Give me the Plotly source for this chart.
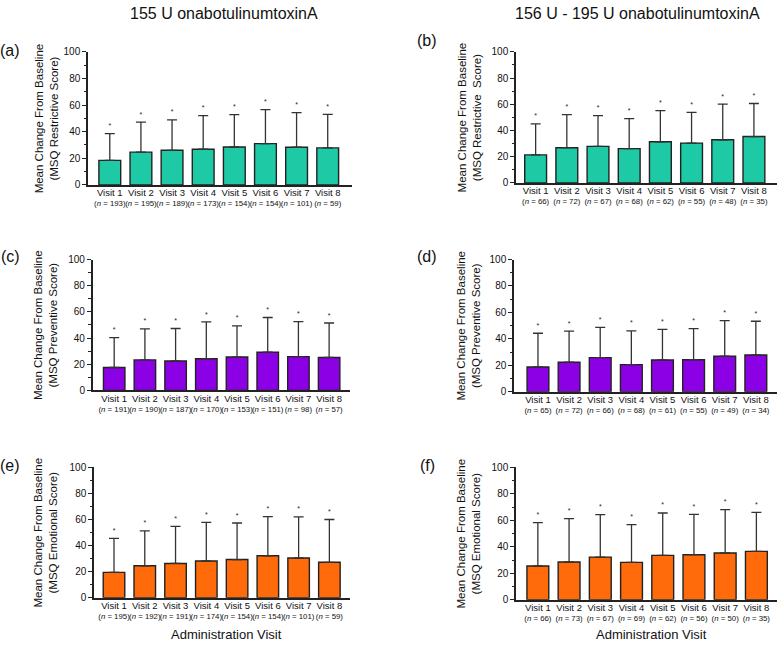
import plotly.graph_objects as go

W, H = 778, 646
FONT = "Liberation Sans, Arial, sans-serif"

visits = [f"Visit {i}" for i in range(1, 9)]

# Panel data: mean change and upper SD
a_mean = [18.4, 24.6, 26.0, 26.8, 28.5, 31.0, 28.3, 27.8]
a_sd = [20.2, 22.6, 22.9, 25.3, 24.3, 25.5, 26.0, 25.2]
a_n = [193, 195, 189, 173, 154, 154, 101, 59]

b_mean = [21.4, 26.9, 27.9, 26.2, 31.4, 30.4, 32.9, 35.4]
b_sd = [23.7, 25.2, 23.5, 22.9, 23.7, 23.5, 27.2, 25.2]
b_n = [66, 72, 67, 68, 62, 55, 48, 35]

c_mean = [17.5, 23.3, 22.5, 24.2, 25.5, 29.2, 25.8, 25.2]
c_sd = [22.8, 23.7, 24.8, 28.1, 23.8, 26.5, 26.7, 26.3]
c_n = [191, 190, 187, 170, 153, 151, 98, 57]

d_mean = [18.7, 22.3, 25.8, 20.5, 24.0, 24.2, 26.8, 27.8]
d_sd = [25.5, 23.5, 22.9, 25.5, 23.2, 23.5, 27.0, 25.5]
d_n = [65, 72, 66, 68, 61, 55, 49, 34]

e_mean = [19.5, 24.5, 26.3, 28.2, 29.3, 32.2, 30.5, 27.2]
e_sd = [26.0, 26.8, 28.4, 29.6, 28.0, 30.0, 31.5, 32.8]
e_n = [195, 192, 191, 174, 154, 154, 101, 59]

f_mean = [25.5, 28.5, 32.2, 28.2, 33.5, 34.0, 35.3, 36.5]
f_sd = [32.7, 32.7, 32.0, 28.5, 32.0, 30.5, 32.7, 29.5]
f_n = [66, 73, 67, 69, 62, 56, 50, 35]

col_titles = ["155 U onabotulinumtoxinA", "156 U - 195 U onabotulinumtoxinA"]
y_titles = ["Mean Change From Baseline<br>(MSQ Restrictive Score)",
            "Mean Change From Baseline<br>(MSQ Restrictive  Score)",
            "Mean Change From Baseline<br>(MSQ Preventive Score)",
            "Mean Change From Baseline<br>(MSQ Preventive Score)",
            "Mean Change From Baseline<br>(MSQ Emotional Score)",
            "Mean Change From Baseline<br>(MSQ Emotional Score)"]
letters = ["(a)", "(b)", "(c)", "(d)", "(e)", "(f)"]
xlabel = "Administration Visit"

TEAL, PURPLE, ORANGE = "#1ec9a6", "#8c00e6", "#ff6b0a"

# layout per panel (pixels)
panels = [
    dict(m=a_mean, s=a_sd, n=a_n, c=TEAL, px=(88, 352), py=(46.7, 182.3), xr=(-0.70, 7.78), tx=46, lx=10, ly=45),
    dict(m=b_mean, s=b_sd, n=b_n, c=TEAL, px=(516, 777), py=(46.7, 180.3), xr=(-0.63, 7.74), tx=469, lx=427, ly=35),
    dict(m=c_mean, s=c_sd, n=c_n, c=PURPLE, px=(92.7, 350), py=(258.3, 391.7), xr=(-0.70, 7.68), tx=46, lx=10, ly=255),
    dict(m=d_mean, s=d_sd, n=d_n, c=PURPLE, px=(514, 777), py=(258.3, 393), xr=(-0.77, 7.68), tx=469, lx=427, ly=255),
    dict(m=e_mean, s=e_sd, n=e_n, c=ORANGE, px=(94, 350), py=(470, 603), xr=(-0.65, 7.67), tx=46, lx=10, ly=468),
    dict(m=f_mean, s=f_sd, n=f_n, c=ORANGE, px=(516, 777), py=(470, 605), xr=(-0.70, 7.66), tx=469, lx=427, ly=468),
]

fig = go.Figure()
annotations = []
layout = {}

for i, p in enumerate(panels):
    k = "" if i == 0 else str(i + 1)
    xa, ya = "x" + k, "y" + k
    xs = list(range(8))
    fig.add_trace(go.Bar(
        x=xs, y=p["m"], xaxis=xa, yaxis=ya, width=0.7,
        marker=dict(color=p["c"], line=dict(color="#222222", width=1.4)),
        error_y=dict(type="data", symmetric=False, array=p["s"], arrayminus=[0] * 8,
                     color="#333333", thickness=1.3, width=5),
        showlegend=False, hoverinfo="skip"))
    stars_y = [m + s + 5.5 for m, s in zip(p["m"], p["s"])]
    fig.add_trace(go.Scatter(
        x=xs, y=stars_y, xaxis=xa, yaxis=ya, mode="text", text=["*"] * 8,
        textposition="middle center", textfont=dict(family=FONT, size=7, color="#222"),
        showlegend=False, hoverinfo="skip"))
    ticktext = [f"<span style='font-size:9.5px'>{v}</span><br>(<i>n</i> = {n})" for v, n in zip(visits, p["n"])]
    layout["xaxis" + k] = dict(
        domain=[p["px"][0] / W, p["px"][1] / W], anchor=ya, range=list(p["xr"]),
        tickmode="array", tickvals=xs, ticktext=ticktext, ticks="", tickangle=0,
        tickfont=dict(family=FONT, size=7.8, color="#111"),
        showline=True, linecolor="#222", linewidth=1.5, showgrid=False, zeroline=False,
        fixedrange=True)
    layout["yaxis" + k] = dict(
        domain=[1 - p["py"][1] / H, 1 - p["py"][0] / H], anchor=xa, range=[0, 100],
        tickvals=[0, 20, 40, 60, 80, 100], ticks="outside", ticklen=4, tickwidth=1.3,
        tickcolor="#222", tickfont=dict(family=FONT, size=10, color="#111"),
        minor=dict(ticks="outside", ticklen=2.5, tickwidth=1, tickcolor="#222", dtick=10),
        showline=True, linecolor="#222", linewidth=1.5, showgrid=False, zeroline=False,
        fixedrange=True)
    annotations.append(dict(
        text=y_titles[i], x=p["tx"] / W, y=1 - (p["py"][0] + p["py"][1]) / 2 / H,
        xref="paper", yref="paper", textangle=-90, showarrow=False,
        xanchor="center", yanchor="middle",
        font=dict(family=FONT, size=11.5, color="#111")))
    annotations.append(dict(
        text=letters[i], x=p["lx"] / W, y=1 - p["ly"] / H, xref="paper", yref="paper",
        showarrow=False, xanchor="center", yanchor="middle",
        font=dict(family=FONT, size=16, color="#111")))

annotations.append(dict(text=col_titles[0], x=224 / W, y=1 - 8 / H, xref="paper", yref="paper",
                        showarrow=False, xanchor="center", yanchor="middle",
                        font=dict(family=FONT, size=16, color="#111")))
annotations.append(dict(text=col_titles[1], x=637 / W, y=1 - 8 / H, xref="paper", yref="paper",
                        showarrow=False, xanchor="center", yanchor="middle",
                        font=dict(family=FONT, size=16, color="#111")))
annotations.append(dict(text=xlabel, x=226 / W, y=1 - 640 / H, xref="paper", yref="paper",
                        showarrow=False, xanchor="center", yanchor="middle",
                        font=dict(family=FONT, size=13, color="#111")))
annotations.append(dict(text=xlabel, x=651 / W, y=1 - 640 / H, xref="paper", yref="paper",
                        showarrow=False, xanchor="center", yanchor="middle",
                        font=dict(family=FONT, size=13, color="#111")))

fig.update_layout(
    width=W, height=H, margin=dict(l=0, r=0, t=0, b=0),
    paper_bgcolor="white", plot_bgcolor="white", bargap=0.3,
    annotations=annotations, **layout)

fig.write_html("out.html", config={"displayModeBar": False})
